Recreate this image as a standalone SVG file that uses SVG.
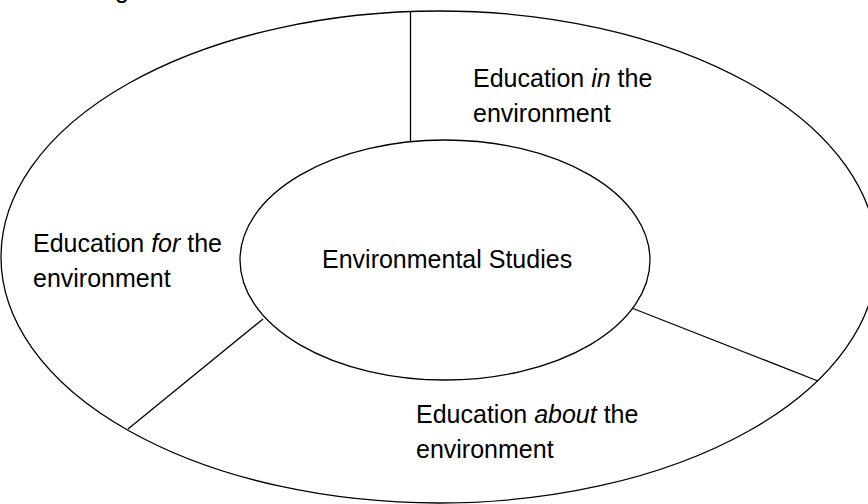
<svg xmlns="http://www.w3.org/2000/svg" width="868" height="504" viewBox="0 0 868 504">
<style>
.shape{fill:none;stroke:#000;stroke-width:1.3}
.conn{stroke:#000;stroke-width:1.3;fill:none}
text{font-family:"Liberation Sans",Arial,sans-serif;font-size:25px;fill:#000}
.it{font-style:italic}
</style>
<rect width="868" height="504" fill="#fff"/>
<text x="115" y="-2.5">g</text>
<g id="outer">
<ellipse class="shape" cx="439" cy="257" rx="438" ry="246"/>
</g>
<g id="connectors">
<line class="conn" x1="410.5" y1="12" x2="410.5" y2="141"/>
<line class="conn" x1="633" y1="308.5" x2="818" y2="381"/>
<line class="conn" x1="263" y1="319" x2="128" y2="429"/>
</g>
<g id="inner">
<ellipse class="shape" cx="445" cy="260" rx="205" ry="120"/>
<text x="322" y="268">Environmental Studies</text>
</g>
<g id="in">
<text x="473" y="87">Education <tspan class="it">in</tspan> the</text>
<text x="473" y="122">environment</text>
</g>
<g id="for">
<text x="33" y="252">Education <tspan class="it">for</tspan> the</text>
<text x="33" y="287">environment</text>
</g>
<g id="about">
<text x="416" y="423">Education <tspan class="it">about</tspan> the</text>
<text x="416" y="458">environment</text>
</g>
</svg>
